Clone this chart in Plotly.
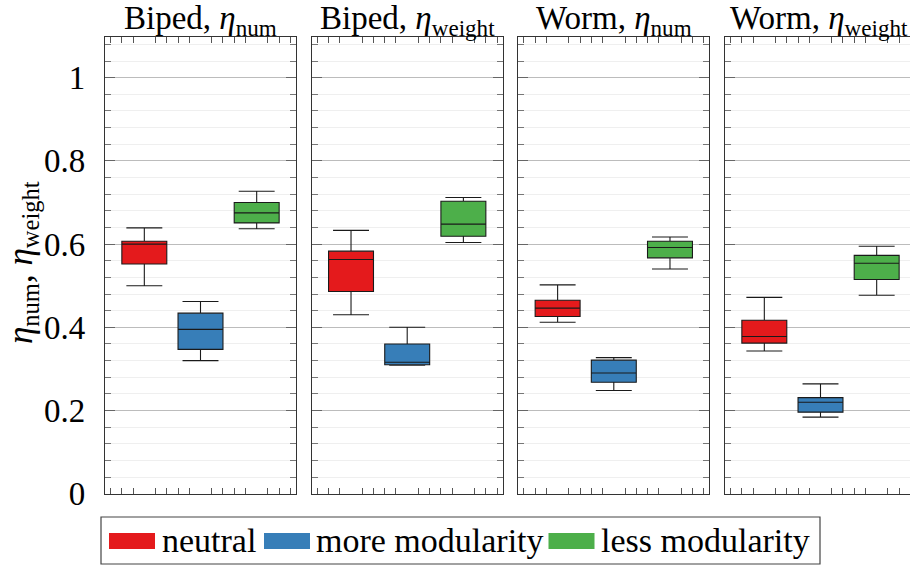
import plotly.graph_objects as go

# Box statistics for each panel, ordered: neutral, more modularity, less modularity
panel_titles = [
    "Biped, <i>η</i><sub>num</sub>",
    "Biped, <i>η</i><sub>weight</sub>",
    "Worm, <i>η</i><sub>num</sub>",
    "Worm, <i>η</i><sub>weight</sub>",
]
groups = ["neutral", "more modularity", "less modularity"]
colors = ["#e41a1c", "#377eb8", "#4daf4a"]
positions = [1, 2, 3]

lower_whisker = [
    [0.500, 0.320, 0.637],
    [0.430, 0.309, 0.604],
    [0.412, 0.248, 0.540],
    [0.343, 0.184, 0.477],
]
q1 = [
    [0.552, 0.347, 0.651],
    [0.486, 0.310, 0.619],
    [0.426, 0.268, 0.567],
    [0.362, 0.196, 0.515],
]
median = [
    [0.600, 0.395, 0.675],
    [0.563, 0.316, 0.648],
    [0.446, 0.290, 0.592],
    [0.378, 0.220, 0.554],
]
q3 = [
    [0.607, 0.434, 0.700],
    [0.583, 0.360, 0.703],
    [0.465, 0.321, 0.607],
    [0.417, 0.231, 0.573],
]
upper_whisker = [
    [0.639, 0.462, 0.727],
    [0.633, 0.400, 0.712],
    [0.502, 0.327, 0.617],
    [0.472, 0.264, 0.595],
]

W, H = 910, 567
FONT = "Liberation Serif"
FS = 33

def px_x(v):
    return v / W

def px_y(v):
    return 1 - v / H

panel_left = [105, 311.7, 518.3, 725]
panel_w = 191
top_px, bottom_px = 37, 493.7
x_range = [0.3, 3.7]
units_per_px = (x_range[1] - x_range[0]) / panel_w

fig = go.Figure()

for p in range(4):
    for g in range(3):
        fig.add_trace(go.Box(
            x=[positions[g]],
            q1=[q1[p][g]], median=[median[p][g]], q3=[q3[p][g]],
            lowerfence=[lower_whisker[p][g]], upperfence=[upper_whisker[p][g]],
            width=0.8, whiskerwidth=0.8,
            fillcolor=colors[g],
            line=dict(color="#1a1a1a", width=1.1),
            boxpoints=False,
            name=groups[g], showlegend=False, hoverinfo="skip",
            xaxis=f"x{p + 1}", yaxis=f"y{p + 1}",
        ))

layout = dict(
    width=W, height=H, autosize=False,
    margin=dict(l=0, r=0, t=0, b=0, autoexpand=False),
    paper_bgcolor="white", plot_bgcolor="white",
    font=dict(family=FONT, size=FS, color="black"),
)

for p in range(4):
    left = panel_left[p]
    right = min(left + panel_w, W)
    xr = [x_range[0], x_range[0] + (right - left) * units_per_px]
    last = p == 3
    layout[f"xaxis{p + 1}"] = dict(
        domain=[px_x(left), px_x(right)],
        range=xr, anchor=f"y{p + 1}",
        tickmode="linear", tick0=0, dtick=1, ticks="",
        showticklabels=False, showgrid=False, zeroline=False,
        showline=True, linecolor="#333", linewidth=1.2, mirror="allticks",
        minor=dict(ticks="inside", ticklen=6, tick0=0, dtick=0.2,
                   tickcolor="#555", tickwidth=1, showgrid=False),
    )
    layout[f"yaxis{p + 1}"] = dict(
        domain=[px_y(bottom_px), px_y(top_px)],
        range=[0, (bottom_px - top_px) / 416.0], anchor=f"x{p + 1}",
        tickmode="linear", tick0=0, dtick=0.2,
        ticks="inside", ticklen=10, tickcolor="#666", tickwidth=1,
        showgrid=True, gridcolor="#bcbcbc", gridwidth=1,
        zeroline=False,
        showline=True, linecolor="#333", linewidth=1.2,
        mirror=False if last else "allticks",
        showticklabels=(p == 0), ticklabelstandoff=12,
        tickfont=dict(family=FONT, size=FS, color="black"),
        minor=dict(ticks="inside", ticklen=6, tick0=0, dtick=0.04,
                   tickcolor="#777", tickwidth=1,
                   showgrid=True, gridcolor="#efefef", gridwidth=1),
    )

annotations = []
for p in range(4):
    if p < 3:
        ax, anchor = px_x(panel_left[p] + panel_w / 2), "center"
    else:
        ax, anchor = 1.0, "right"
    annotations.append(dict(
        text=panel_titles[p], x=ax, y=px_y(21),
        xref="paper", yref="paper", xanchor=anchor, yanchor="middle",
        showarrow=False, font=dict(family=FONT, size=FS, color="black"),
    ))

annotations.append(dict(
    text="<i>η</i><sub>num</sub>, <i>η</i><sub>weight</sub>",
    x=px_x(22), y=px_y(263), xref="paper", yref="paper",
    xanchor="center", yanchor="middle", textangle=-90,
    showarrow=False, font=dict(family=FONT, size=35, color="black"),
))

# Legend: frame, colour swatches and labels
shapes = [dict(
    type="rect", xref="paper", yref="paper",
    x0=px_x(101), x1=px_x(820), y0=px_y(564), y1=px_y(517),
    line=dict(color="#444", width=1.2), fillcolor="white",
)]
swatch_x = [109, 264, 548.5]
label_x = [161.5, 315.5, 600.5]
for g in range(3):
    shapes.append(dict(
        type="rect", xref="paper", yref="paper",
        x0=px_x(swatch_x[g]), x1=px_x(swatch_x[g] + 46),
        y0=px_y(549), y1=px_y(533),
        line=dict(width=0), fillcolor=colors[g],
    ))
    annotations.append(dict(
        text=groups[g], x=px_x(label_x[g] - 2), y=px_y(540),
        xref="paper", yref="paper", xanchor="left", yanchor="middle",
        showarrow=False, font=dict(family=FONT, size=34, color="black"),
    ))

layout["annotations"] = annotations
layout["shapes"] = shapes
fig.update_layout(**layout)

fig.write_html("out.html", config={"responsive": False})
